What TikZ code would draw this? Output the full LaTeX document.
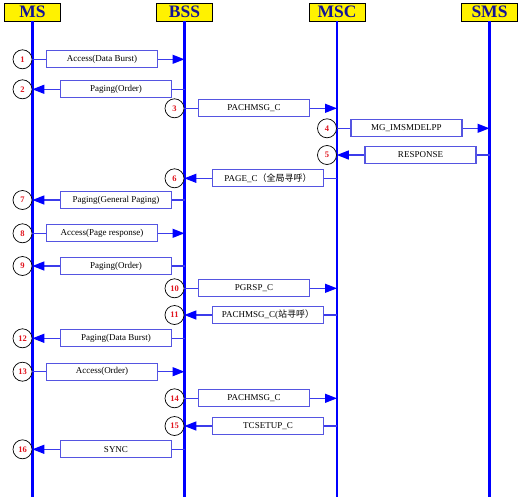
\documentclass[tikz,border=0pt]{standalone}
\usepackage{fontspec}
\setmainfont{Liberation Serif}
\newfontfamily\cjk{Noto Sans CJK SC}
\usetikzlibrary{arrows.meta}
\definecolor{lifeC}{RGB}{0,0,255}
\definecolor{boxC}{RGB}{85,85,225}
\definecolor{wireC}{RGB}{60,60,235}
\definecolor{headC}{RGB}{20,20,150}
\definecolor{numC}{RGB}{225,20,30}

\begin{document}
\begin{tikzpicture}[x=1pt,y=-1pt,
    head/.style={rectangle,draw=black,line width=0.8pt,fill=yellow,minimum width=56pt,minimum height=18pt,inner sep=0pt,text=headC,font=\fontsize{17.5}{17.5}\selectfont\bfseries},
    life/.style={draw=lifeC,line width=2.4pt},
    msg/.style={rectangle,draw=boxC,line width=1.3pt,fill=white,minimum width=111pt,minimum height=17pt,inner sep=0pt,font=\fontsize{9}{9}\selectfont},
    num/.style={circle,draw=black,line width=0.7pt,fill=white,minimum size=19pt,inner sep=0pt,text=numC,font=\fontsize{8.5}{8.5}\selectfont\bfseries},
    wire/.style={draw=wireC,line width=1.3pt},
    >={Triangle[length=12pt,width=9pt,color=lifeC]}
  ]
  \useasboundingbox (0,0) rectangle (522,501);
  \node[head] (ms) at (32.5,12) {MS};
  \node[head] (bss) at (184.5,12) {BSS};
  \node[head] (msc) at (337,12) {MSC};
  \node[head] (sms) at (489.5,12) {SMS};
  \coordinate (bot) at (0,497);
  \draw[life] (ms.south) -- (ms |- bot);
  \draw[life] (bss.south) -- (bss |- bot);
  \draw[life] (msc.south) -- (msc |- bot);
  \draw[life] (sms.south) -- (sms |- bot);

  \node[num] (n1) at (22.5,59.3) {1};
  \node[msg] (m1) at (102,59.3) {Access(Data Burst)};
  \draw[wire] (n1) -- (m1); \draw[wire,->] (m1) -- (bss |- m1);
  \node[num] (n2) at (22.5,89.3) {2};
  \node[msg] (m2) at (116,89.3) {Paging(Order)};
  \draw[wire] (bss |- m2) -- (m2); \draw[wire,->] (m2) -- (n2);
  \node[num] (n3) at (174.5,108.3) {3};
  \node[msg] (m3) at (254,108.3) {PACHMSG\_C};
  \draw[wire] (n3) -- (m3); \draw[wire,->] (m3) -- (msc |- m3);
  \node[num] (n4) at (327,128.3) {4};
  \node[msg] (m4) at (406.5,128.3) {MG\_IMSMDELPP};
  \draw[wire] (n4) -- (m4); \draw[wire,->] (m4) -- (sms |- m4);
  \node[num] (n5) at (327,155) {5};
  \node[msg] (m5) at (420.5,155) {RESPONSE};
  \draw[wire] (sms |- m5) -- (m5); \draw[wire,->] (m5) -- (n5);
  \node[num] (n6) at (174.5,178.3) {6};
  \node[msg] (m6) at (268,178.3) {PAGE\_C{\cjk（全局寻呼）}};
  \draw[wire] (msc |- m6) -- (m6); \draw[wire,->] (m6) -- (n6);
  \node[num] (n7) at (22.5,200) {7};
  \node[msg] (m7) at (116,200) {Paging(General Paging)};
  \draw[wire] (bss |- m7) -- (m7); \draw[wire,->] (m7) -- (n7);
  \node[num] (n8) at (22.5,233.3) {8};
  \node[msg] (m8) at (102,233.3) {Access(Page response)};
  \draw[wire] (n8) -- (m8); \draw[wire,->] (m8) -- (bss |- m8);
  \node[num] (n9) at (22.5,266) {9};
  \node[msg] (m9) at (116,266) {Paging(Order)};
  \draw[wire] (bss |- m9) -- (m9); \draw[wire,->] (m9) -- (n9);
  \node[num] (n10) at (174.5,288.3) {10};
  \node[msg] (m10) at (254,288.3) {PGRSP\_C};
  \draw[wire] (n10) -- (m10); \draw[wire,->] (m10) -- (msc |- m10);
  \node[num] (n11) at (174.5,315) {11};
  \node[msg] (m11) at (268,315) {PACHMSG\_C({\cjk 站寻呼）}};
  \draw[wire] (msc |- m11) -- (m11); \draw[wire,->] (m11) -- (n11);
  \node[num] (n12) at (22.5,338.3) {12};
  \node[msg] (m12) at (116,338.3) {Paging(Data Burst)};
  \draw[wire] (bss |- m12) -- (m12); \draw[wire,->] (m12) -- (n12);
  \node[num] (n13) at (22.5,371.7) {13};
  \node[msg] (m13) at (102,371.7) {Access(Order)};
  \draw[wire] (n13) -- (m13); \draw[wire,->] (m13) -- (bss |- m13);
  \node[num] (n14) at (174.5,398.3) {14};
  \node[msg] (m14) at (254,398.3) {PACHMSG\_C};
  \draw[wire] (n14) -- (m14); \draw[wire,->] (m14) -- (msc |- m14);
  \node[num] (n15) at (174.5,426) {15};
  \node[msg] (m15) at (268,426) {TCSETUP\_C};
  \draw[wire] (msc |- m15) -- (m15); \draw[wire,->] (m15) -- (n15);
  \node[num] (n16) at (22.5,449.3) {16};
  \node[msg] (m16) at (116,449.3) {SYNC};
  \draw[wire] (bss |- m16) -- (m16); \draw[wire,->] (m16) -- (n16);
\end{tikzpicture}
\end{document}
